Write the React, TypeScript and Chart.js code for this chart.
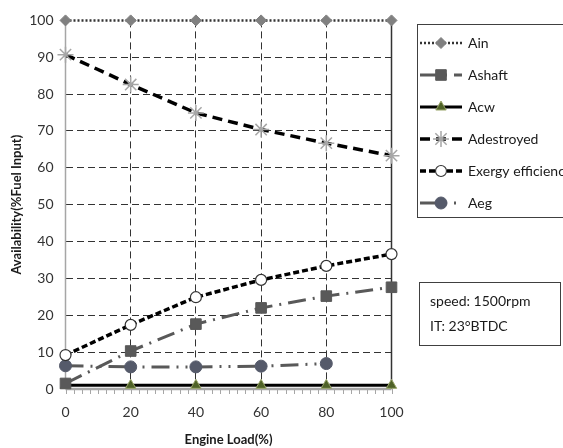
import React, { useEffect, useRef } from "react";
import Chart from "chart.js/auto";
import { drawPoint } from "chart.js/helpers";

const loads = [0, 20, 40, 60, 80, 100];
const ain = [100, 100, 100, 100, 100, 100];
const ashaft = [1.5, 10.3, 17.6, 22.0, 25.2, 27.6];
const acw = [1, 1, 1, 1, 1, 1];
const adestroyed = [90.7, 82.6, 74.9, 70.4, 66.7, 63.3];
const exergy = [9.2, 17.4, 24.9, 29.6, 33.4, 36.6];
const aeg: (number | null)[] = [6.3, 6.0, 6.0, 6.2, 6.9, null];

const xTicks = [0, 20, 40, 60, 80, 100];
const yTicks = [0, 10, 20, 30, 40, 50, 60, 70, 80, 90, 100];
const infoLines = ["speed: 1500rpm", "IT: 23°BTDC"];

const FONT = "Lato, 'Open Sans', sans-serif";

const pts = (vals: (number | null)[]) =>
  loads.map((x, i) => ({ x, y: vals[i] }));

const decorPlugin = {
  id: "decor",
  beforeDatasetsDraw(chart: any) {
    const { ctx, chartArea, scales } = chart;
    const xs = scales.x;
    const ys = scales.y;
    ctx.save();
    // minor ticks
    ctx.strokeStyle = "#a6a6a6";
    ctx.lineWidth = 1;
    for (let v = 0; v <= 100.001; v += 2.5) {
      const px = Math.round(xs.getPixelForValue(v)) + 0.5;
      ctx.beginPath();
      ctx.moveTo(px, chartArea.bottom);
      ctx.lineTo(px, chartArea.bottom + 5);
      ctx.stroke();
    }
    // left axis
    ctx.strokeStyle = "#a6a6a6";
    ctx.lineWidth = 1.5;
    ctx.beginPath();
    ctx.moveTo(xs.getPixelForValue(0), chartArea.top);
    ctx.lineTo(xs.getPixelForValue(0), chartArea.bottom);
    ctx.stroke();
    // bottom axis
    ctx.lineWidth = 2.5;
    ctx.beginPath();
    ctx.moveTo(chartArea.left, ys.getPixelForValue(0));
    ctx.lineTo(chartArea.right, ys.getPixelForValue(0));
    ctx.stroke();
    // right border
    ctx.strokeStyle = "#333333";
    ctx.lineWidth = 1.5;
    ctx.beginPath();
    ctx.moveTo(xs.getPixelForValue(100), chartArea.top);
    ctx.lineTo(xs.getPixelForValue(100), chartArea.bottom);
    ctx.stroke();
    ctx.restore();
  },
  afterDraw(chart: any) {
    const { ctx } = chart;
    ctx.save();
    // legend box
    ctx.strokeStyle = "#404040";
    ctx.lineWidth = 1;
    ctx.strokeRect(417.5, 24.5, 160, 193);
    ctx.font = `14px ${FONT}`;
    ctx.textBaseline = "middle";
    ctx.textAlign = "left";
    chart.data.datasets.forEach((ds: any, i: number) => {
      const y = 43 + i * 32;
      ctx.save();
      ctx.strokeStyle = ds.borderColor;
      ctx.lineWidth = ds.borderWidth;
      ctx.setLineDash(ds.borderDash || []);
      ctx.beginPath();
      ctx.moveTo(420, y);
      ctx.lineTo(462, y);
      ctx.stroke();
      ctx.setLineDash([]);
      ctx.fillStyle = ds.pointBackgroundColor;
      ctx.strokeStyle = ds.pointBorderColor;
      ctx.lineWidth = ds.pointBorderWidth;
      drawPoint(
        ctx,
        {
          pointStyle: ds.pointStyle,
          radius: ds.pointRadius,
          borderWidth: ds.pointBorderWidth,
          rotation: 0,
        } as any,
        441,
        y
      );
      ctx.restore();
      ctx.fillStyle = "#1a1a1a";
      ctx.fillText(ds.label, 468, y);
    });
    // info box
    ctx.strokeStyle = "#404040";
    ctx.lineWidth = 1;
    ctx.strokeRect(419.5, 282.5, 141, 63);
    ctx.fillStyle = "#1a1a1a";
    ctx.font = `14px ${FONT}`;
    infoLines.forEach((t, i) => ctx.fillText(t, 430, 301 + i * 25));
    ctx.restore();
  },
};

export default function App() {
  const ref = useRef<HTMLCanvasElement | null>(null);
  useEffect(() => {
    document.body.style.margin = "0";
    if (!ref.current) return;
    const gridColor = (c: any) =>
      c.tick && (c.tick.value === 0 || c.tick.value === 100)
        ? "rgba(0,0,0,0)"
        : "#333333";
    const chart = new Chart(ref.current, {
      type: "line",
      data: {
        datasets: [
          {
            label: "Ain",
            data: pts(ain),
            borderColor: "#333333",
            borderWidth: 2.5,
            borderDash: [2, 2],
            pointStyle: "rectRot",
            pointRadius: 5.5,
            pointBackgroundColor: "#808080",
            pointBorderColor: "#808080",
            pointBorderWidth: 1,
            clip: false,
          },
          {
            label: "Ashaft",
            data: pts(ashaft),
            borderColor: "#595959",
            borderWidth: 3,
            borderDash: [18, 7, 2, 7],
            pointStyle: "rect",
            pointRadius: 7.5,
            pointBackgroundColor: "#595959",
            pointBorderColor: "#595959",
            pointBorderWidth: 1,
            clip: false,
          },
          {
            label: "Acw",
            data: pts(acw),
            borderColor: "#000000",
            borderWidth: 3,
            borderDash: [],
            pointStyle: "triangle",
            pointRadius: 6,
            pointBackgroundColor: "#4f6228",
            pointBorderColor: "#9aa66a",
            pointBorderWidth: 1,
            clip: false,
          },
          {
            label: "Adestroyed",
            data: pts(adestroyed),
            borderColor: "#000000",
            borderWidth: 3.5,
            borderDash: [10, 6],
            pointStyle: "star",
            pointRadius: 8,
            pointBackgroundColor: "#a6a6a6",
            pointBorderColor: "#a6a6a6",
            pointBorderWidth: 1.5,
            clip: false,
          },
          {
            label: "Exergy efficiency",
            data: pts(exergy),
            borderColor: "#000000",
            borderWidth: 3.5,
            borderDash: [6, 3],
            pointStyle: "circle",
            pointRadius: 5.5,
            pointBackgroundColor: "#ffffff",
            pointBorderColor: "#333333",
            pointBorderWidth: 1.2,
            clip: false,
          },
          {
            label: "Aeg",
            data: pts(aeg),
            borderColor: "#595959",
            borderWidth: 3,
            borderDash: [18, 7, 2, 7, 2, 7],
            pointStyle: "circle",
            pointRadius: 6,
            pointBackgroundColor: "#555a6a",
            pointBorderColor: "#555a6a",
            pointBorderWidth: 1,
            clip: false,
          },
        ],
      } as any,
      options: {
        animation: false,
        responsive: false,
        devicePixelRatio: 1,
        layout: { padding: { top: 17, right: 171.5, bottom: 0, left: 0 } },
        plugins: { legend: { display: false }, tooltip: { enabled: false } },
        elements: { line: { tension: 0, fill: false } },
        scales: {
          x: {
            type: "linear",
            min: 0,
            max: 100,
            afterBuildTicks: (s: any) => {
              s.ticks = xTicks.map((v) => ({ value: v }));
            },
            afterFit: (s: any) => {
              s.height = 59;
            },
            ticks: {
              font: { family: FONT, size: 14 },
              color: "#333333",
              padding: 15,
            },
            grid: { drawTicks: false, color: gridColor, lineWidth: 1 },
            border: { display: false, dash: [7, 4] },
            title: {
              display: true,
              text: "Engine Load(%)",
              font: { family: FONT, size: 13, weight: "bold" },
              color: "#1a1a1a",
              padding: 0,
            },
          },
          y: {
            type: "linear",
            min: 0,
            max: 100,
            afterBuildTicks: (s: any) => {
              s.ticks = yTicks.map((v) => ({ value: v }));
            },
            afterFit: (s: any) => {
              s.width = 65.5;
            },
            ticks: {
              font: { family: FONT, size: 14 },
              color: "#333333",
              padding: 12,
            },
            grid: { drawTicks: false, color: gridColor, lineWidth: 1 },
            border: { display: false, dash: [7, 4] },
            title: {
              display: true,
              text: "Availability(%Fuel Input)",
              font: { family: FONT, size: 13, weight: "bold" },
              color: "#1a1a1a",
              padding: { top: 9, bottom: 0 },
            },
          },
        },
      } as any,
      plugins: [decorPlugin],
    });
    return () => chart.destroy();
  }, []);
  return (
    <canvas
      ref={ref}
      width={563}
      height={448}
      style={{ display: "block", width: 563, height: 448 }}
    />
  );
}
